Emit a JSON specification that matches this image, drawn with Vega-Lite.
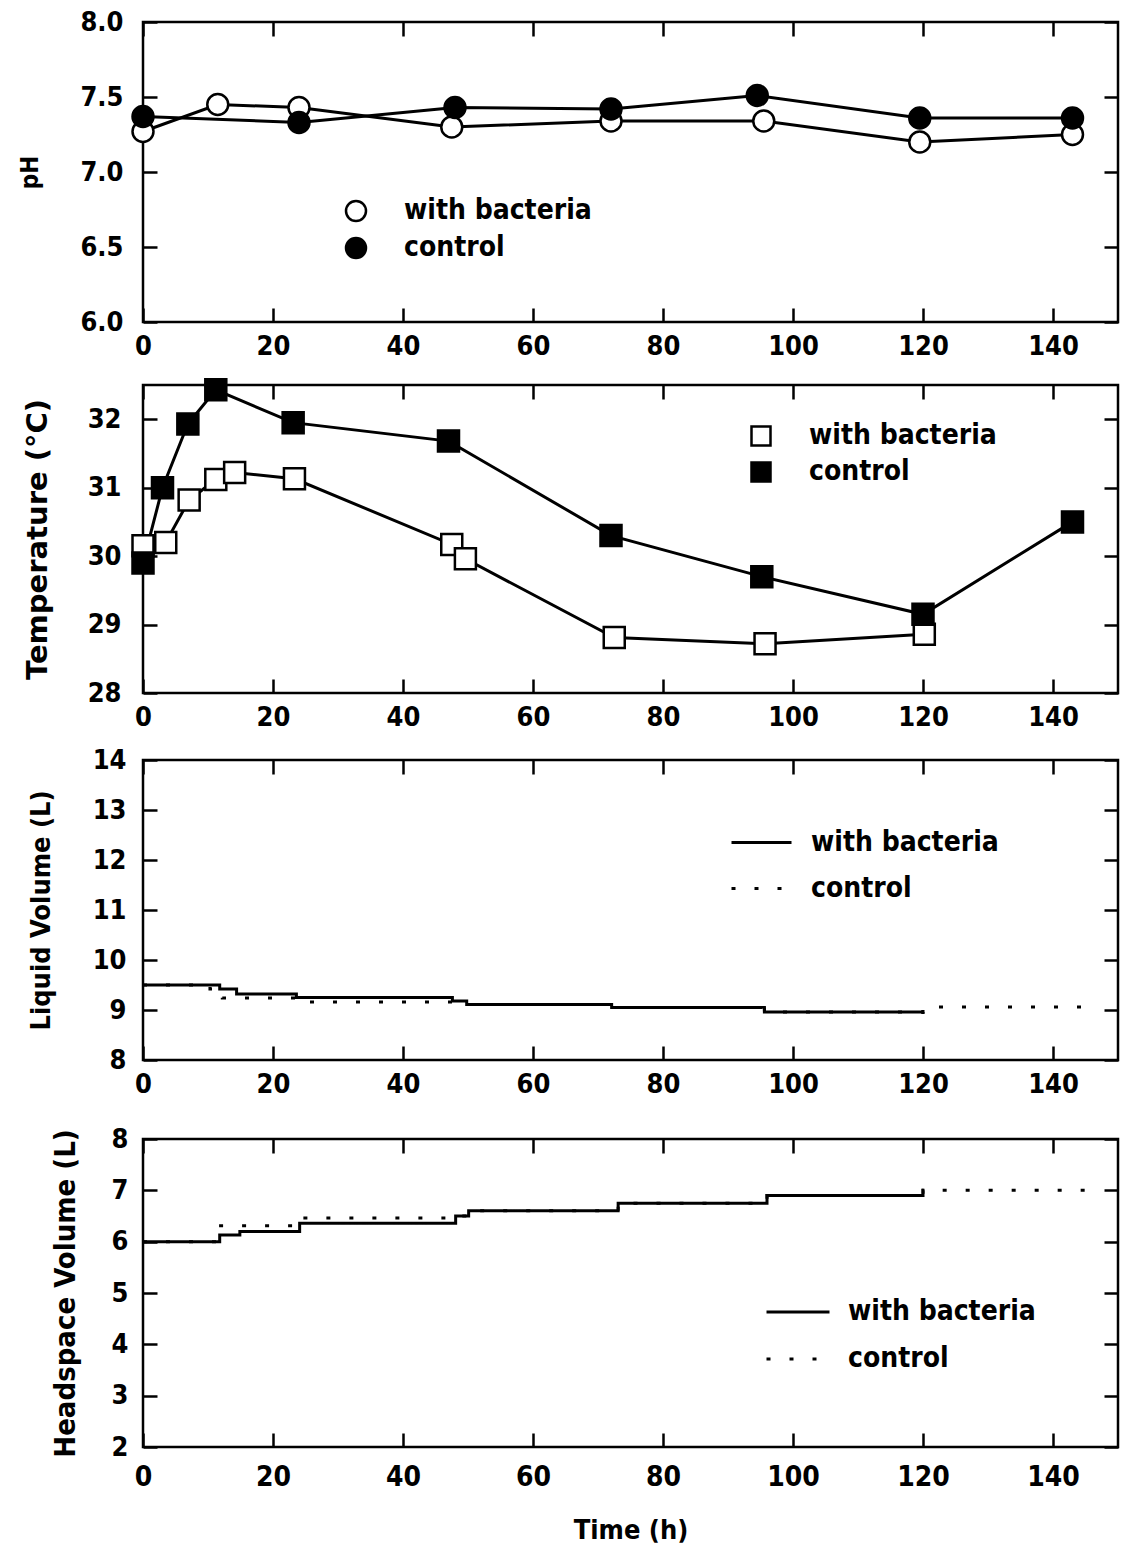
{
  "$schema": "https://vega.github.io/schema/vega-lite/v6.json",
  "padding": {"left": 16, "top": 6, "right": 5, "bottom": 5},
  "datasets": {
    "ph": [
      {"t": 0, "v": 7.27, "series": "with bacteria"},
      {"t": 11.5, "v": 7.45, "series": "with bacteria"},
      {"t": 24, "v": 7.43, "series": "with bacteria"},
      {"t": 47.5, "v": 7.30, "series": "with bacteria"},
      {"t": 72, "v": 7.34, "series": "with bacteria"},
      {"t": 95.5, "v": 7.34, "series": "with bacteria"},
      {"t": 119.5, "v": 7.20, "series": "with bacteria"},
      {"t": 143, "v": 7.25, "series": "with bacteria"},
      {"t": 0, "v": 7.37, "series": "control"},
      {"t": 24, "v": 7.33, "series": "control"},
      {"t": 48, "v": 7.43, "series": "control"},
      {"t": 72, "v": 7.42, "series": "control"},
      {"t": 94.5, "v": 7.51, "series": "control"},
      {"t": 119.5, "v": 7.36, "series": "control"},
      {"t": 143, "v": 7.36, "series": "control"}
    ],
    "temp": [
      {"t": 0, "v": 30.15, "series": "with bacteria"},
      {"t": 3.5, "v": 30.2, "series": "with bacteria"},
      {"t": 7.1, "v": 30.82, "series": "with bacteria"},
      {"t": 11.2, "v": 31.12, "series": "with bacteria"},
      {"t": 14.1, "v": 31.22, "series": "with bacteria"},
      {"t": 23.3, "v": 31.13, "series": "with bacteria"},
      {"t": 47.5, "v": 30.17, "series": "with bacteria"},
      {"t": 49.6, "v": 29.96, "series": "with bacteria"},
      {"t": 72.5, "v": 28.81, "series": "with bacteria"},
      {"t": 95.7, "v": 28.72, "series": "with bacteria"},
      {"t": 120.2, "v": 28.86, "series": "with bacteria"},
      {"t": 0, "v": 29.9, "series": "control"},
      {"t": 3, "v": 31.0, "series": "control"},
      {"t": 6.9, "v": 31.93, "series": "control"},
      {"t": 11.2, "v": 32.43, "series": "control"},
      {"t": 23.1, "v": 31.95, "series": "control"},
      {"t": 47, "v": 31.68, "series": "control"},
      {"t": 72, "v": 30.3, "series": "control"},
      {"t": 95.2, "v": 29.7, "series": "control"},
      {"t": 120, "v": 29.15, "series": "control"},
      {"t": 143, "v": 30.5, "series": "control"}
    ],
    "liquid": [
      {"t": 0, "v": 9.5, "series": "with bacteria"},
      {"t": 11.8, "v": 9.42, "series": "with bacteria"},
      {"t": 14.4, "v": 9.32, "series": "with bacteria"},
      {"t": 23.6, "v": 9.25, "series": "with bacteria"},
      {"t": 47.6, "v": 9.18, "series": "with bacteria"},
      {"t": 49.8, "v": 9.11, "series": "with bacteria"},
      {"t": 72.1, "v": 9.05, "series": "with bacteria"},
      {"t": 95.6, "v": 8.96, "series": "with bacteria"},
      {"t": 120, "v": 8.92, "series": "with bacteria"},
      {"t": 0, "v": 9.5, "series": "control"},
      {"t": 10.3, "v": 9.42, "series": "control"},
      {"t": 12.2, "v": 9.24, "series": "control"},
      {"t": 24.5, "v": 9.16, "series": "control"},
      {"t": 49.8, "v": 9.11, "series": "control"},
      {"t": 72.1, "v": 9.05, "series": "control"},
      {"t": 95.6, "v": 8.96, "series": "control"},
      {"t": 120, "v": 9.06, "series": "control"},
      {"t": 145, "v": 9.06, "series": "control"}
    ],
    "headspace": [
      {"t": 0, "v": 6.0, "series": "with bacteria"},
      {"t": 11.8, "v": 6.13, "series": "with bacteria"},
      {"t": 14.9, "v": 6.2, "series": "with bacteria"},
      {"t": 24.1, "v": 6.36, "series": "with bacteria"},
      {"t": 48.1, "v": 6.5, "series": "with bacteria"},
      {"t": 50.1, "v": 6.6, "series": "with bacteria"},
      {"t": 73.1, "v": 6.75, "series": "with bacteria"},
      {"t": 96, "v": 6.9, "series": "with bacteria"},
      {"t": 120, "v": 7.03, "series": "with bacteria"},
      {"t": 0, "v": 6.0, "series": "control"},
      {"t": 11, "v": 6.31, "series": "control"},
      {"t": 24.5, "v": 6.46, "series": "control"},
      {"t": 48.1, "v": 6.5, "series": "control"},
      {"t": 50.1, "v": 6.6, "series": "control"},
      {"t": 73.1, "v": 6.75, "series": "control"},
      {"t": 96, "v": 6.9, "series": "control"},
      {"t": 120, "v": 7.0, "series": "control"},
      {"t": 145, "v": 7.0, "series": "control"}
    ]
  },
  "vconcat": [
    {
      "vconcat": [
        {
          "width": 975,
          "height": 300,
          "data": {"name": "ph"},
          "layer": [
            {
              "mark": {"type": "line", "color": "black", "strokeWidth": 3},
              "encoding": {
                "x": {"field": "t", "type": "quantitative", "scale": {"domain": [0, 150], "nice": false, "zero": false},
                      "axis": {"orient": "bottom", "values": [0, 20, 40, 60, 80, 100, 120, 140], "title": null, "labelPadding": 25}},
                "y": {"field": "v", "type": "quantitative", "scale": {"domain": [6, 8], "nice": false, "zero": false},
                      "axis": {"orient": "left", "values": [6, 6.5, 7, 7.5, 8], "format": ".1f", "title": "pH", "titleFontSize": 24, "minExtent": 91, "labelPadding": 34}},
                "detail": {"field": "series", "type": "nominal"}
              }
            },
            {
              "mark": {"type": "point", "shape": "circle", "size": 440, "filled": true, "stroke": "black", "strokeWidth": 2.5, "opacity": 1},
              "encoding": {
                "x": {"field": "t", "type": "quantitative", "axis": {"orient": "top", "values": [0, 20, 40, 60, 80, 100, 120, 140], "labels": false, "title": null}},
                "y": {"field": "v", "type": "quantitative", "axis": {"orient": "right", "values": [6, 6.5, 7, 7.5, 8], "labels": false, "title": null}},
                "fill": {"field": "series", "type": "nominal",
                         "scale": {"domain": ["with bacteria", "control"], "range": ["white", "black"]},
                         "legend": {"orient": "none", "legendX": 199, "legendY": 175, "title": null, "symbolType": "circle", "symbolSize": 400, "labelOffset": 34, "rowPadding": 7}}
              }
            }
          ],
          "resolve": {"axis": {"x": "independent", "y": "independent"}}
        },
        {
          "width": 975,
          "height": 308,
          "data": {"name": "temp"},
          "layer": [
            {
              "mark": {"type": "line", "color": "black", "strokeWidth": 3},
              "encoding": {
                "x": {"field": "t", "type": "quantitative", "scale": {"domain": [0, 150], "nice": false, "zero": false},
                      "axis": {"orient": "bottom", "values": [0, 20, 40, 60, 80, 100, 120, 140], "title": null, "labelPadding": 25}},
                "y": {"field": "v", "type": "quantitative", "scale": {"domain": [28, 32.5], "nice": false, "zero": false},
                      "axis": {"orient": "left", "values": [28, 29, 30, 31, 32], "title": "Temperature (°C)", "titleFont": "DejaVu Sans", "titleFontSize": 29, "minExtent": 81, "labelPadding": 36}},
                "detail": {"field": "series", "type": "nominal"}
              }
            },
            {
              "mark": {"type": "point", "shape": "square", "size": 441, "filled": true, "stroke": "black", "strokeWidth": 2.5, "opacity": 1},
              "encoding": {
                "x": {"field": "t", "type": "quantitative", "axis": {"orient": "top", "values": [0, 20, 40, 60, 80, 100, 120, 140], "labels": false, "title": null}},
                "y": {"field": "v", "type": "quantitative", "axis": {"orient": "right", "values": [28, 29, 30, 31, 32], "labels": false, "title": null}},
                "fill": {"field": "series", "type": "nominal",
                         "scale": {"domain": ["with bacteria", "control"], "range": ["white", "black"]},
                         "legend": {"orient": "none", "legendX": 604, "legendY": 37, "title": null, "symbolType": "square", "symbolSize": 361, "labelOffset": 34, "rowPadding": 6}}
              }
            }
          ],
          "resolve": {"axis": {"x": "independent", "y": "independent"}}
        },
        {
          "width": 975,
          "height": 300,
          "data": {"name": "liquid"},
          "layer": [
            {
              "mark": {"type": "line", "interpolate": "step-after", "color": "black", "strokeWidth": 3},
              "encoding": {
                "x": {"field": "t", "type": "quantitative", "scale": {"domain": [0, 150], "nice": false, "zero": false},
                      "axis": {"orient": "bottom", "values": [0, 20, 40, 60, 80, 100, 120, 140], "title": null, "labelPadding": 25}},
                "y": {"field": "v", "type": "quantitative", "scale": {"domain": [8, 14], "nice": false, "zero": false},
                      "axis": {"orient": "left", "values": [8, 9, 10, 11, 12, 13, 14], "title": "Liquid Volume (L)", "minExtent": 78, "labelPadding": 31}},
                "strokeDash": {"field": "series", "type": "nominal",
                               "scale": {"domain": ["with bacteria", "control"], "range": [[1, 0], [4, 19]]},
                               "legend": {"orient": "none", "legendX": 587, "legendY": 51, "title": null, "symbolType": "stroke", "symbolSize": 3600, "symbolStrokeWidth": 3, "labelOffset": 18, "rowPadding": -14}}
              }
            },
            {
              "mark": {"type": "line", "opacity": 0},
              "encoding": {
                "x": {"field": "t", "type": "quantitative", "axis": {"orient": "top", "values": [0, 20, 40, 60, 80, 100, 120, 140], "labels": false, "title": null}},
                "y": {"field": "v", "type": "quantitative", "axis": {"orient": "right", "values": [8, 9, 10, 11, 12, 13, 14], "labels": false, "title": null}},
                "detail": {"field": "series", "type": "nominal"}
              }
            }
          ],
          "resolve": {"axis": {"x": "independent", "y": "independent"}}
        }
      ],
      "spacing": 12,
      "resolve": {"scale": {"fill": "independent", "strokeDash": "independent"}, "legend": {"fill": "independent", "strokeDash": "independent"}}
    },
    {
      "width": 975,
      "height": 308,
      "data": {"name": "headspace"},
      "layer": [
        {
          "mark": {"type": "line", "interpolate": "step-after", "color": "black", "strokeWidth": 3},
          "encoding": {
            "x": {"field": "t", "type": "quantitative", "scale": {"domain": [0, 150], "nice": false, "zero": false},
                  "axis": {"orient": "bottom", "values": [0, 20, 40, 60, 80, 100, 120, 140], "title": "Time (h)", "labelPadding": 30, "labelFontSize": 28, "titlePadding": 26}},
            "y": {"field": "v", "type": "quantitative", "scale": {"domain": [2, 8], "nice": false, "zero": false},
                  "axis": {"orient": "left", "values": [2, 3, 4, 5, 6, 7, 8], "title": "Headspace Volume (L)", "titleFontSize": 29, "minExtent": 53, "labelPadding": 29}},
            "strokeDash": {"field": "series", "type": "nominal",
                           "scale": {"domain": ["with bacteria", "control"], "range": [[1, 0], [4, 19]]},
                           "legend": {"orient": "none", "legendX": 622, "legendY": 140, "title": null, "symbolType": "stroke", "symbolSize": 3969, "symbolStrokeWidth": 3, "labelOffset": 17, "rowPadding": -9}}
          }
        },
        {
          "mark": {"type": "line", "opacity": 0},
          "encoding": {
            "x": {"field": "t", "type": "quantitative", "axis": {"orient": "top", "values": [0, 20, 40, 60, 80, 100, 120, 140], "labels": false, "title": null}},
            "y": {"field": "v", "type": "quantitative", "axis": {"orient": "right", "values": [2, 3, 4, 5, 6, 7, 8], "labels": false, "title": null}},
            "detail": {"field": "series", "type": "nominal"}
          }
        }
      ],
      "resolve": {"axis": {"x": "independent", "y": "independent"}}
    }
  ],
  "spacing": 24,
  "resolve": {"scale": {"fill": "independent", "strokeDash": "independent"}, "legend": {"fill": "independent", "strokeDash": "independent"}},
  "config": {
    "font": "DejaVu Sans Condensed, DejaVu Sans",
    "view": {"stroke": "black", "strokeWidth": 2.5},
    "axis": {
      "domain": false,
      "grid": false,
      "tickColor": "black",
      "tickWidth": 2.5,
      "tickSize": -14,
      "labelColor": "black",
      "labelFontSize": 27,
      "labelFontWeight": "bold",
      "labelFlush": false,
      "labelOverlap": false,
      "titleColor": "black",
      "titleFontSize": 27,
      "titleFontWeight": "bold",
      "titlePadding": 10
    },
    "legend": {
      "labelColor": "black",
      "labelFontSize": 28,
      "labelFontWeight": "bold",
      "labelLimit": 500,
      "padding": 0,
      "symbolStrokeColor": "black",
      "symbolStrokeWidth": 2.5
    }
  }
}
